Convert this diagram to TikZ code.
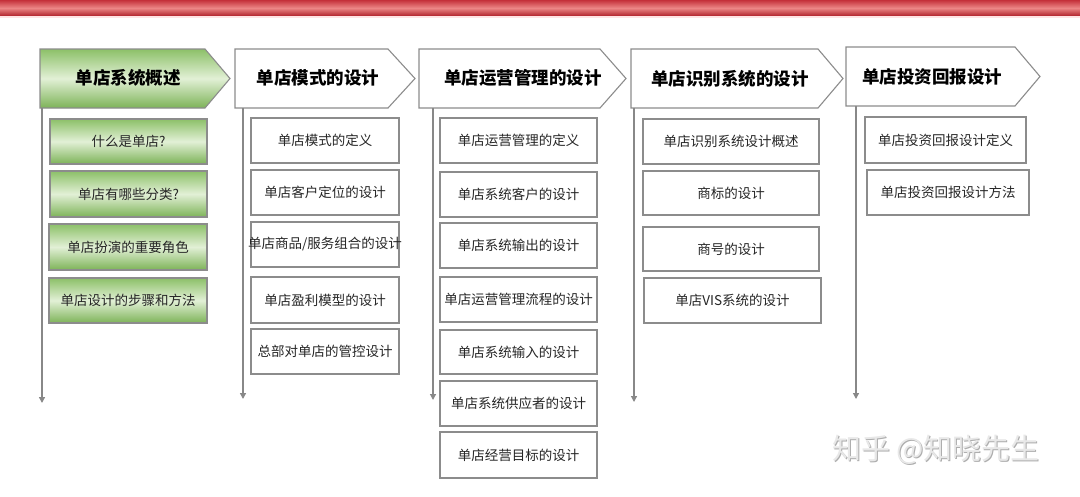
\documentclass[tikz,border=0pt]{standalone}
\usepackage{fontspec}
\setmainfont{Noto Sans CJK SC}
\usetikzlibrary{arrows.meta}
\definecolor{bordergray}{HTML}{8C8C8C}
\definecolor{linegray}{HTML}{888888}
\definecolor{gtop}{HTML}{8CC068}
\definecolor{gmid}{HTML}{E2F0D6}
\definecolor{gbot}{HTML}{7DB358}
\definecolor{redtop}{HTML}{C4303A}
\definecolor{redmid}{HTML}{EC8686}
\definecolor{redbot}{HTML}{B0232C}
\begin{document}
\begin{tikzpicture}[x=1pt,y=-1pt,
  chev/.style={draw=bordergray,line width=1.1pt,fill=white},
  greenchev/.style={draw=bordergray,line width=1.1pt,top color=gtop,bottom color=gbot,middle color=gmid},
  headtxt/.style={font=\fontsize{17.5}{20}\selectfont\bfseries,inner sep=0pt},
  subbox/.style={draw=bordergray,line width=1.1pt,fill=white,anchor=north west,inner sep=0pt,outer sep=0pt,font=\fontsize{13.5}{16}\selectfont,text=black!85},
  greenbox/.style={subbox,top color=gtop,bottom color=gbot,middle color=gmid},
  flow/.style={draw=linegray,line width=1.3pt,-{Triangle[length=6pt,width=6pt]}}
]
\useasboundingbox (0,0) rectangle (1080,496);
% top red bar
\shade[top color=redtop,bottom color=redbot,middle color=redmid] (0,0) rectangle (1080,16);
\fill[white!90!red] (0,16) rectangle (1080,17.5);

% headers
\newcommand{\chevron}[6]{%
  \path[#6] (#1,#4) -- (#2,#4) -- (#3,{(#4+#5)/2}) -- (#2,#5) -- (#1,#5) -- cycle;}
\chevron{40}{205}{230}{49}{108}{greenchev}
\chevron{235}{388}{415}{49}{108}{chev}
\chevron{419}{600}{626}{49}{108}{chev}
\chevron{631}{818}{843}{49}{108}{chev}
\chevron{846}{1015}{1040}{47}{106}{chev}
\node[headtxt] (h1) at (128,78) {单店系统概述};
\node[headtxt] (h2) at (318,78) {单店模式的设计};
\node[headtxt] (h3) at (523,78) {单店运营管理的设计};
\node[headtxt] (h4) at (730,79) {单店识别系统的设计};
\node[headtxt] (h5) at (932,77) {单店投资回报设计};

% vertical flow arrows
\coordinate (s1) at (42,108);  \coordinate (e1) at (42,403);
\coordinate (s2) at (243,108); \coordinate (e2) at (243,399);
\coordinate (s3) at (433,108); \coordinate (e3) at (433,400);
\coordinate (s4) at (634,108); \coordinate (e4) at (634,402);
\coordinate (s5) at (856,106); \coordinate (e5) at (856,399);
\foreach \i in {1,...,5} {\draw[flow] (s\i) -- (e\i);}

% column 1
\node[greenbox,minimum width=157,minimum height=45] (a1) at (50,119) {什么是单店?};
\node[greenbox,minimum width=157,minimum height=46] (a2) at (50,171) {单店有哪些分类?};
\node[greenbox,minimum width=158,minimum height=46] (a3) at (49,224) {单店扮演的重要角色};
\node[greenbox,minimum width=158,minimum height=45] (a4) at (49,278) {单店设计的步骤和方法};

% column 2
\node[subbox,minimum width=148,minimum height=45] (b1) at (251,118) {单店模式的定义};
\node[subbox,minimum width=148,minimum height=45] (b2) at (251,170) {单店客户定位的设计};
\node[subbox,minimum width=148,minimum height=45] (b3) at (251,222) {\makebox[0pt]{单店商品/服务组合的设计}};
\node[subbox,minimum width=148,minimum height=46] (b4) at (251,277) {单店盈利模型的设计};
\node[subbox,minimum width=148,minimum height=45] (b5) at (251,329) {总部对单店的管控设计};

% column 3
\node[subbox,minimum width=157,minimum height=45] (c1) at (440,118) {单店运营管理的定义};
\node[subbox,minimum width=157,minimum height=45] (c2) at (440,172) {单店系统客户的设计};
\node[subbox,minimum width=157,minimum height=45] (c3) at (440,223) {单店系统输出的设计};
\node[subbox,minimum width=157,minimum height=45] (c4) at (440,277) {\makebox[0pt]{单店运营管理流程的设计}};
\node[subbox,minimum width=157,minimum height=44] (c5) at (440,330) {单店系统输入的设计};
\node[subbox,minimum width=157,minimum height=45] (c6) at (440,381) {单店系统供应者的设计};
\node[subbox,minimum width=157,minimum height=46] (c7) at (440,432) {单店经营目标的设计};

% column 4
\node[subbox,minimum width=176,minimum height=45] (d1) at (643,119) {单店识别系统设计概述};
\node[subbox,minimum width=176,minimum height=44] (d2) at (643,171) {商标的设计};
\node[subbox,minimum width=176,minimum height=44] (d3) at (643,227) {商号的设计};
\node[subbox,minimum width=177,minimum height=45] (d4) at (644,278) {单店VIS系统的设计};

% column 5
\node[subbox,minimum width=161,minimum height=46] (f1) at (865,117) {单店投资回报设计定义};
\node[subbox,minimum width=162,minimum height=45] (f2) at (867,170) {单店投资回报设计方法};

% watermark
\node[font=\fontsize{29}{32}\selectfont,text=black!32,inner sep=0pt] (wm0) at (937,451) {知乎 @知晓先生};
\node[font=\fontsize{29}{32}\selectfont,text=black!9,inner sep=0pt] (wm) at (936,450) {知乎 @知晓先生};
\end{tikzpicture}
\end{document}
